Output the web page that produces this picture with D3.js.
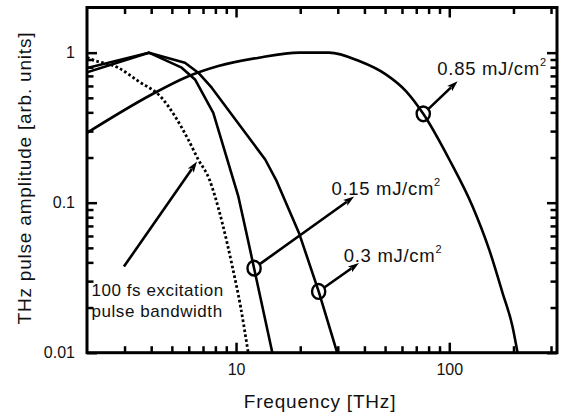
<!DOCTYPE html>
<html>
<head>
<meta charset="utf-8">
<script src="https://cdn.jsdelivr.net/npm/d3@7"></script>
<style>
  html, body { margin: 0; padding: 0; background: #fff; }
  svg text { font-family: "Liberation Sans", Arial, Helvetica, sans-serif; fill: #111; }
</style>
</head>
<body>
<svg id="chart" width="566" height="417"></svg>
<script>
// THz spectra for three excitation fluences, plus the optical pulse bandwidth
// Each point: [frequency in THz, normalised amplitude]
const fluence015 = [[2, 0.74], [3.9, 1.0], [5.56, 0.794], [6.42, 0.663], [7.82, 0.397],
  [10.25, 0.110], [11.1, 0.066], [12.15, 0.0366], [14.8, 0.01]];
const fluence030 = [[2, 0.79], [3.9, 1.0], [5.76, 0.857], [6.65, 0.735], [7.69, 0.584],
  [13.7, 0.194], [15.4, 0.142], [19.8, 0.062], [24.4, 0.0256], [29.8, 0.01]];
const fluence085 = [[2, 0.292], [4.02, 0.526], [5.76, 0.681], [8.26, 0.814], [12.8, 0.926],
  [19.8, 1.0], [27.3, 1.0], [37.8, 0.879], [50.4, 0.716], [62.6, 0.554], [75.5, 0.391],
  [100, 0.194], [128.6, 0.0944], [154, 0.0485], [178, 0.0249], [198, 0.0149], [209, 0.01]];
const pulseBandwidth = [[2, 0.93], [2.10, 0.902], [2.80, 0.794], [3.48, 0.646], [4.48, 0.50],
  [5.17, 0.377], [5.97, 0.263], [6.65, 0.194], [7.51, 0.142], [7.97, 0.110], [8.62, 0.0732],
  [9.61, 0.0375], [10.5, 0.0203], [11.4, 0.01]];

// Axis ticks
const xMajorTicks = [10, 100];
const xMinorTicks = [3, 4, 5, 6, 7, 8, 9, 20, 30, 40, 50, 60, 70, 80, 90, 200, 300];
const yMajorTicks = [0.01, 0.1, 1];
const yMinorTicks = [0.02, 0.03, 0.04, 0.05, 0.06, 0.07, 0.08, 0.09,
  0.2, 0.3, 0.4, 0.5, 0.6, 0.7, 0.8, 0.9];

// Fluence annotations: marked point on the curve, arrow tip, label anchor
const fluenceLabels = ["0.85 mJ/cm", "0.15 mJ/cm", "0.3 mJ/cm"];
const markedPoints = [[75.5, 0.391], [12.15, 0.0366], [24.4, 0.0256]];
const arrowTips = [[109.4, 0.646], [35.8, 0.110], [37.7, 0.0396]];
const labelAnchors = [[87.9, 0.705], [28.0, 0.113], [32.0, 0.0405]];

// Bandwidth annotation
const bandwidthLines = ["100 fs excitation", "pulse bandwidth"];
const bandwidthAnchors = [[2.10, 0.024], [2.10, 0.0174]];
const bandwidthArrow = [[2.98, 0.0375], [6.56, 0.188]];

const svg = d3.select("#chart");
const L = 87, R = 557, T = 7.5, B = 352.7;

const x = d3.scaleLog().domain([2, 320]).range([L, R]);
const y = d3.scaleLog().domain([0.01, 2]).range([B, T]);

svg.append("defs").append("clipPath").attr("id", "plotArea")
  .append("rect").attr("x", L).attr("y", T).attr("width", R - L).attr("height", B - T);

// Curves
const lineLinear = d3.line().x(d => x(d[0])).y(d => y(d[1]));
const lineSmooth = d3.line().x(d => x(d[0])).y(d => y(d[1])).curve(d3.curveMonotoneX);

const curves = svg.append("g").attr("clip-path", "url(#plotArea)")
  .attr("fill", "none").attr("stroke", "#000");

curves.append("path").attr("d", lineSmooth(pulseBandwidth))
  .attr("stroke-width", 2.8).attr("stroke-dasharray", "2.6,2.4");
curves.append("path").attr("d", lineLinear(fluence015)).attr("stroke-width", 2.6)
  .attr("stroke-linejoin", "round");
curves.append("path").attr("d", lineLinear(fluence030)).attr("stroke-width", 2.6)
  .attr("stroke-linejoin", "round");
curves.append("path").attr("d", lineSmooth(fluence085)).attr("stroke-width", 2.6);

// Axes: inward major and minor ticks on all four sides
function styleAxis(g) {
  g.select(".domain").remove();
  g.selectAll(".tick line").attr("stroke", "#000").attr("stroke-width", 2.5);
  g.selectAll(".tick text").style("font-size", "16px").attr("fill", "#111");
}
const fmt = d => d >= 1 ? d3.format("d")(d) : String(d);
const minorLen = 6.5, majorLen = 10;

svg.append("g").attr("transform", `translate(0,${B})`)
  .call(d3.axisBottom(x).tickValues(xMinorTicks).tickSize(-minorLen).tickFormat(""))
  .call(styleAxis);
svg.append("g").attr("transform", `translate(0,${B})`)
  .call(d3.axisBottom(x).tickValues(xMajorTicks).tickSize(-majorLen).tickPadding(11).tickFormat(fmt))
  .call(styleAxis);
svg.append("g").attr("transform", `translate(0,${T})`)
  .call(d3.axisTop(x).tickValues(xMinorTicks).tickSize(-minorLen).tickFormat(""))
  .call(styleAxis);
svg.append("g").attr("transform", `translate(0,${T})`)
  .call(d3.axisTop(x).tickValues(xMajorTicks).tickSize(-majorLen).tickFormat(""))
  .call(styleAxis);

svg.append("g").attr("transform", `translate(${L},0)`)
  .call(d3.axisLeft(y).tickValues(yMinorTicks).tickSize(-minorLen).tickFormat(""))
  .call(styleAxis);
svg.append("g").attr("transform", `translate(${L},0)`)
  .call(d3.axisLeft(y).tickValues(yMajorTicks).tickSize(-majorLen).tickPadding(12).tickFormat(fmt))
  .call(styleAxis);
svg.append("g").attr("transform", `translate(${R},0)`)
  .call(d3.axisRight(y).tickValues(yMinorTicks).tickSize(-minorLen).tickFormat(""))
  .call(styleAxis);
svg.append("g").attr("transform", `translate(${R},0)`)
  .call(d3.axisRight(y).tickValues(yMajorTicks).tickSize(-majorLen).tickFormat(""))
  .call(styleAxis);

// Frame
svg.append("rect").attr("x", L).attr("y", T).attr("width", R - L).attr("height", B - T)
  .attr("fill", "none").attr("stroke", "#000").attr("stroke-width", 3);

// Axis titles
svg.append("text").attr("x", (L + R) / 2 - 2).attr("y", 408).attr("text-anchor", "middle")
  .style("font-size", "19px").style("letter-spacing", "0.8px").text("Frequency [THz]");
svg.append("text").attr("transform", `translate(30.5,${(T + B) / 2 - 2}) rotate(-90)`)
  .attr("text-anchor", "middle").style("font-size", "19px").style("letter-spacing", "0.8px")
  .text("THz pulse amplitude [arb. units]");

// Arrow helper: shaft from (x0,y0) to tip (x1,y1) with a slim filled head
function arrow(x0, y0, x1, y1, startGap) {
  const dx = x1 - x0, dy = y1 - y0, len = Math.hypot(dx, dy);
  const ux = dx / len, uy = dy / len;
  const headLen = 11, headHalf = 3.6;
  const sx = x0 + ux * startGap, sy = y0 + uy * startGap;
  const bx = x1 - ux * headLen, by = y1 - uy * headLen;
  svg.append("line").attr("x1", sx).attr("y1", sy).attr("x2", bx + ux * 2).attr("y2", by + uy * 2)
    .attr("stroke", "#000").attr("stroke-width", 2.6);
  svg.append("path")
    .attr("d", `M${x1},${y1}L${bx - uy * headHalf},${by + ux * headHalf}L${bx + ux * 2.5},${by + uy * 2.5}L${bx + uy * headHalf},${by - ux * headHalf}Z`)
    .attr("fill", "#000");
}

// Fluence markers, arrows and labels
fluenceLabels.forEach((label, i) => {
  const cx = x(markedPoints[i][0]), cy = y(markedPoints[i][1]);
  svg.append("ellipse").attr("cx", cx).attr("cy", cy).attr("rx", 6.6).attr("ry", 7.4)
    .attr("fill", "none").attr("stroke", "#000").attr("stroke-width", 2.4);
  arrow(cx, cy, x(arrowTips[i][0]), y(arrowTips[i][1]), 6.5);
  const t = svg.append("text").attr("x", x(labelAnchors[i][0])).attr("y", y(labelAnchors[i][1]))
    .style("font-size", "18.5px").style("letter-spacing", "0.7px");
  t.append("tspan").text(label);
  t.append("tspan").attr("dy", -9).style("font-size", "11px").text("2");
});

// Excitation pulse bandwidth annotation
arrow(x(bandwidthArrow[0][0]), y(bandwidthArrow[0][1]),
      x(bandwidthArrow[1][0]), y(bandwidthArrow[1][1]), 0);
bandwidthLines.forEach((line, i) => {
  svg.append("text").attr("x", x(bandwidthAnchors[i][0])).attr("y", y(bandwidthAnchors[i][1]))
    .style("font-size", "17px").style("letter-spacing", "0.55px").text(line);
});
</script>
</body>
</html>
